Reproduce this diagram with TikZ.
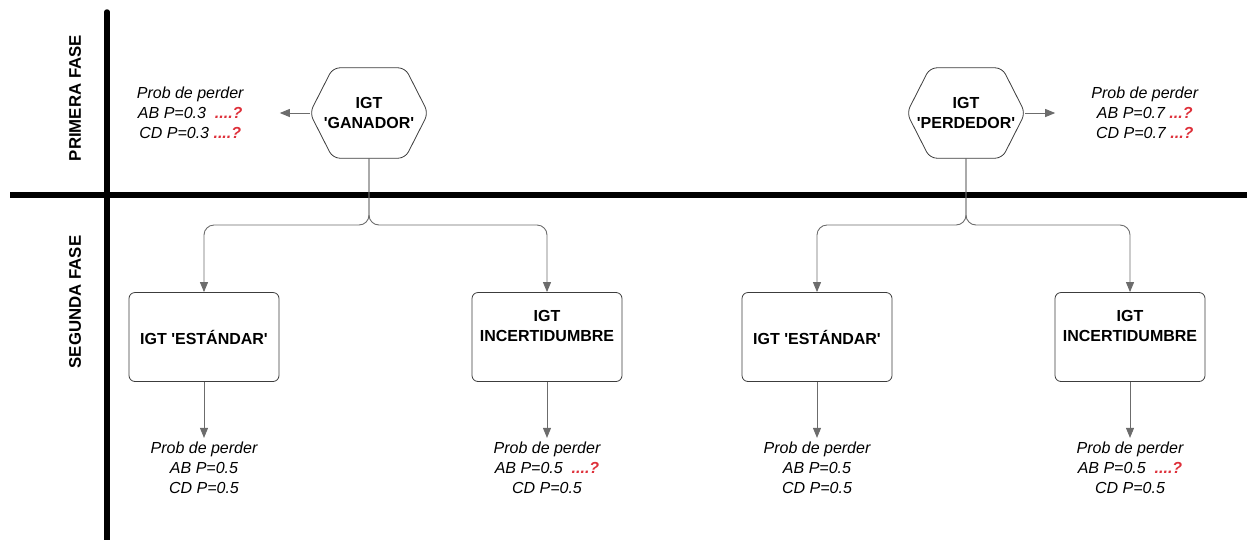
\documentclass[tikz,border=0pt]{standalone}
\usepackage{fontspec}
\setmainfont{Liberation Sans}
\usetikzlibrary{arrows.meta,calc,positioning}
\definecolor{rojo}{RGB}{222,48,58}
\definecolor{gris}{RGB}{108,108,108}
\definecolor{borde}{RGB}{60,60,60}
\newcommand{\letra}{\fontsize{16}{20}\selectfont}
\newcommand{\cq}{\textquotesingle}
\newcommand{\duda}[1]{\textcolor{rojo}{\bfseries #1}}
\tikzstyle{hexa} = [rectangle, minimum width=118pt, minimum height=90pt,
    font=\letra\bfseries, align=center, inner sep=0pt]
\tikzstyle{hexline} = [draw=borde, line width=0.8pt, rounded corners=7pt]
\tikzstyle{block} = [rectangle, draw=borde, line width=0.8pt, rounded corners=6pt,
    minimum width=150pt, minimum height=89pt, font=\letra\bfseries, align=center, inner sep=2pt]
\tikzstyle{prob} = [align=center, font=\letra\itshape, inner sep=4pt]
\tikzstyle{fase} = [rotate=90, font=\fontsize{16.8}{20}\selectfont\bfseries]
\tikzstyle{line} = [draw=gris, line width=0.9pt, -{Triangle[length=10pt,width=8pt]}]
\tikzstyle{muro} = [line width=5.5pt]
% hexagon drawn round a named node
\newcommand{\hexborde}[1]{\draw[hexline] (#1.north) -- ($(#1.north east)+(-23,0)$) -- (#1.east)
    -- ($(#1.south east)+(-23,0)$) -- ($(#1.south west)+(23,0)$) -- (#1.west)
    -- ($(#1.north west)+(23,0)$) -- cycle;}

\begin{document}
\begin{tikzpicture}[x=1pt, y=-1pt]
    \useasboundingbox (0,0) rectangle (1247,539);
    % Phases
    \draw[muro, line cap=round] (107,12) -- (107,545);
    \draw[muro] (10,195) -- (1250,195);
    \node [fase] (fase1) at (75,98) {PRIMERA FASE};
    \node [fase] (fase2) at (75,302) {SEGUNDA FASE};
    % Place nodes
    \node [hexa] (ganador) at (369,113) {IGT\\\cq GANADOR\cq};
    \node [hexa] (perdedor) at (966,113) {IGT\\\cq PERDEDOR\cq};
    \hexborde{ganador}
    \hexborde{perdedor}
    \node [prob, left=62pt of ganador] (probG) {Prob de perder\\AB P=0.3 \ \duda{....?}\\CD P=0.3 \duda{....?}};
    \node [prob, right=62pt of perdedor] (probP) {Prob de perder\\AB P=0.7 \duda{...?}\\CD P=0.7 \duda{...?}};
    \node [block] (est1) at (204,337) {IGT \cq EST\'ANDAR\cq};
    \node [block] (inc1) at (547,337) {IGT\\INCERTIDUMBRE\\[2pt]\mbox{}};
    \node [block] (est2) at (817,337) {IGT \cq EST\'ANDAR\cq};
    \node [block] (inc2) at (1130,337) {IGT\\INCERTIDUMBRE\\[2pt]\mbox{}};
    \node [prob, below=56pt of est1, anchor=north] (probE1) {Prob de perder\\AB P=0.5\\CD P=0.5};
    \node [prob, below=56pt of inc1, anchor=north] (probI1) {Prob de perder\\AB P=0.5 \ \duda{....?}\\CD P=0.5};
    \node [prob, below=56pt of est2, anchor=north] (probE2) {Prob de perder\\AB P=0.5\\CD P=0.5};
    \node [prob, below=56pt of inc2, anchor=north] (probI2) {Prob de perder\\AB P=0.5 \ \duda{....?}\\CD P=0.5};
    \coordinate (nudoG) at (369,225);
    \coordinate (nudoP) at (966,225);
    % Draw edges
    \path [line, shorten >=32pt] (ganador.west) -- (probG.east);
    \path [line, shorten >=32pt] (perdedor.east) -- (probP.west);
    \path [line, rounded corners=10pt] (ganador.south) -- (nudoG) -| (est1.north);
    \path [line, rounded corners=10pt] (ganador.south) -- (nudoG) -| (inc1.north);
    \path [line, rounded corners=10pt] (perdedor.south) -- (nudoP) -| (est2.north);
    \path [line, rounded corners=10pt] (perdedor.south) -- (nudoP) -| (inc2.north);
    \path [line] (est1) -- (probE1);
    \path [line] (inc1) -- (probI1);
    \path [line] (est2) -- (probE2);
    \path [line] (inc2) -- (probI2);
\end{tikzpicture}
\end{document}
